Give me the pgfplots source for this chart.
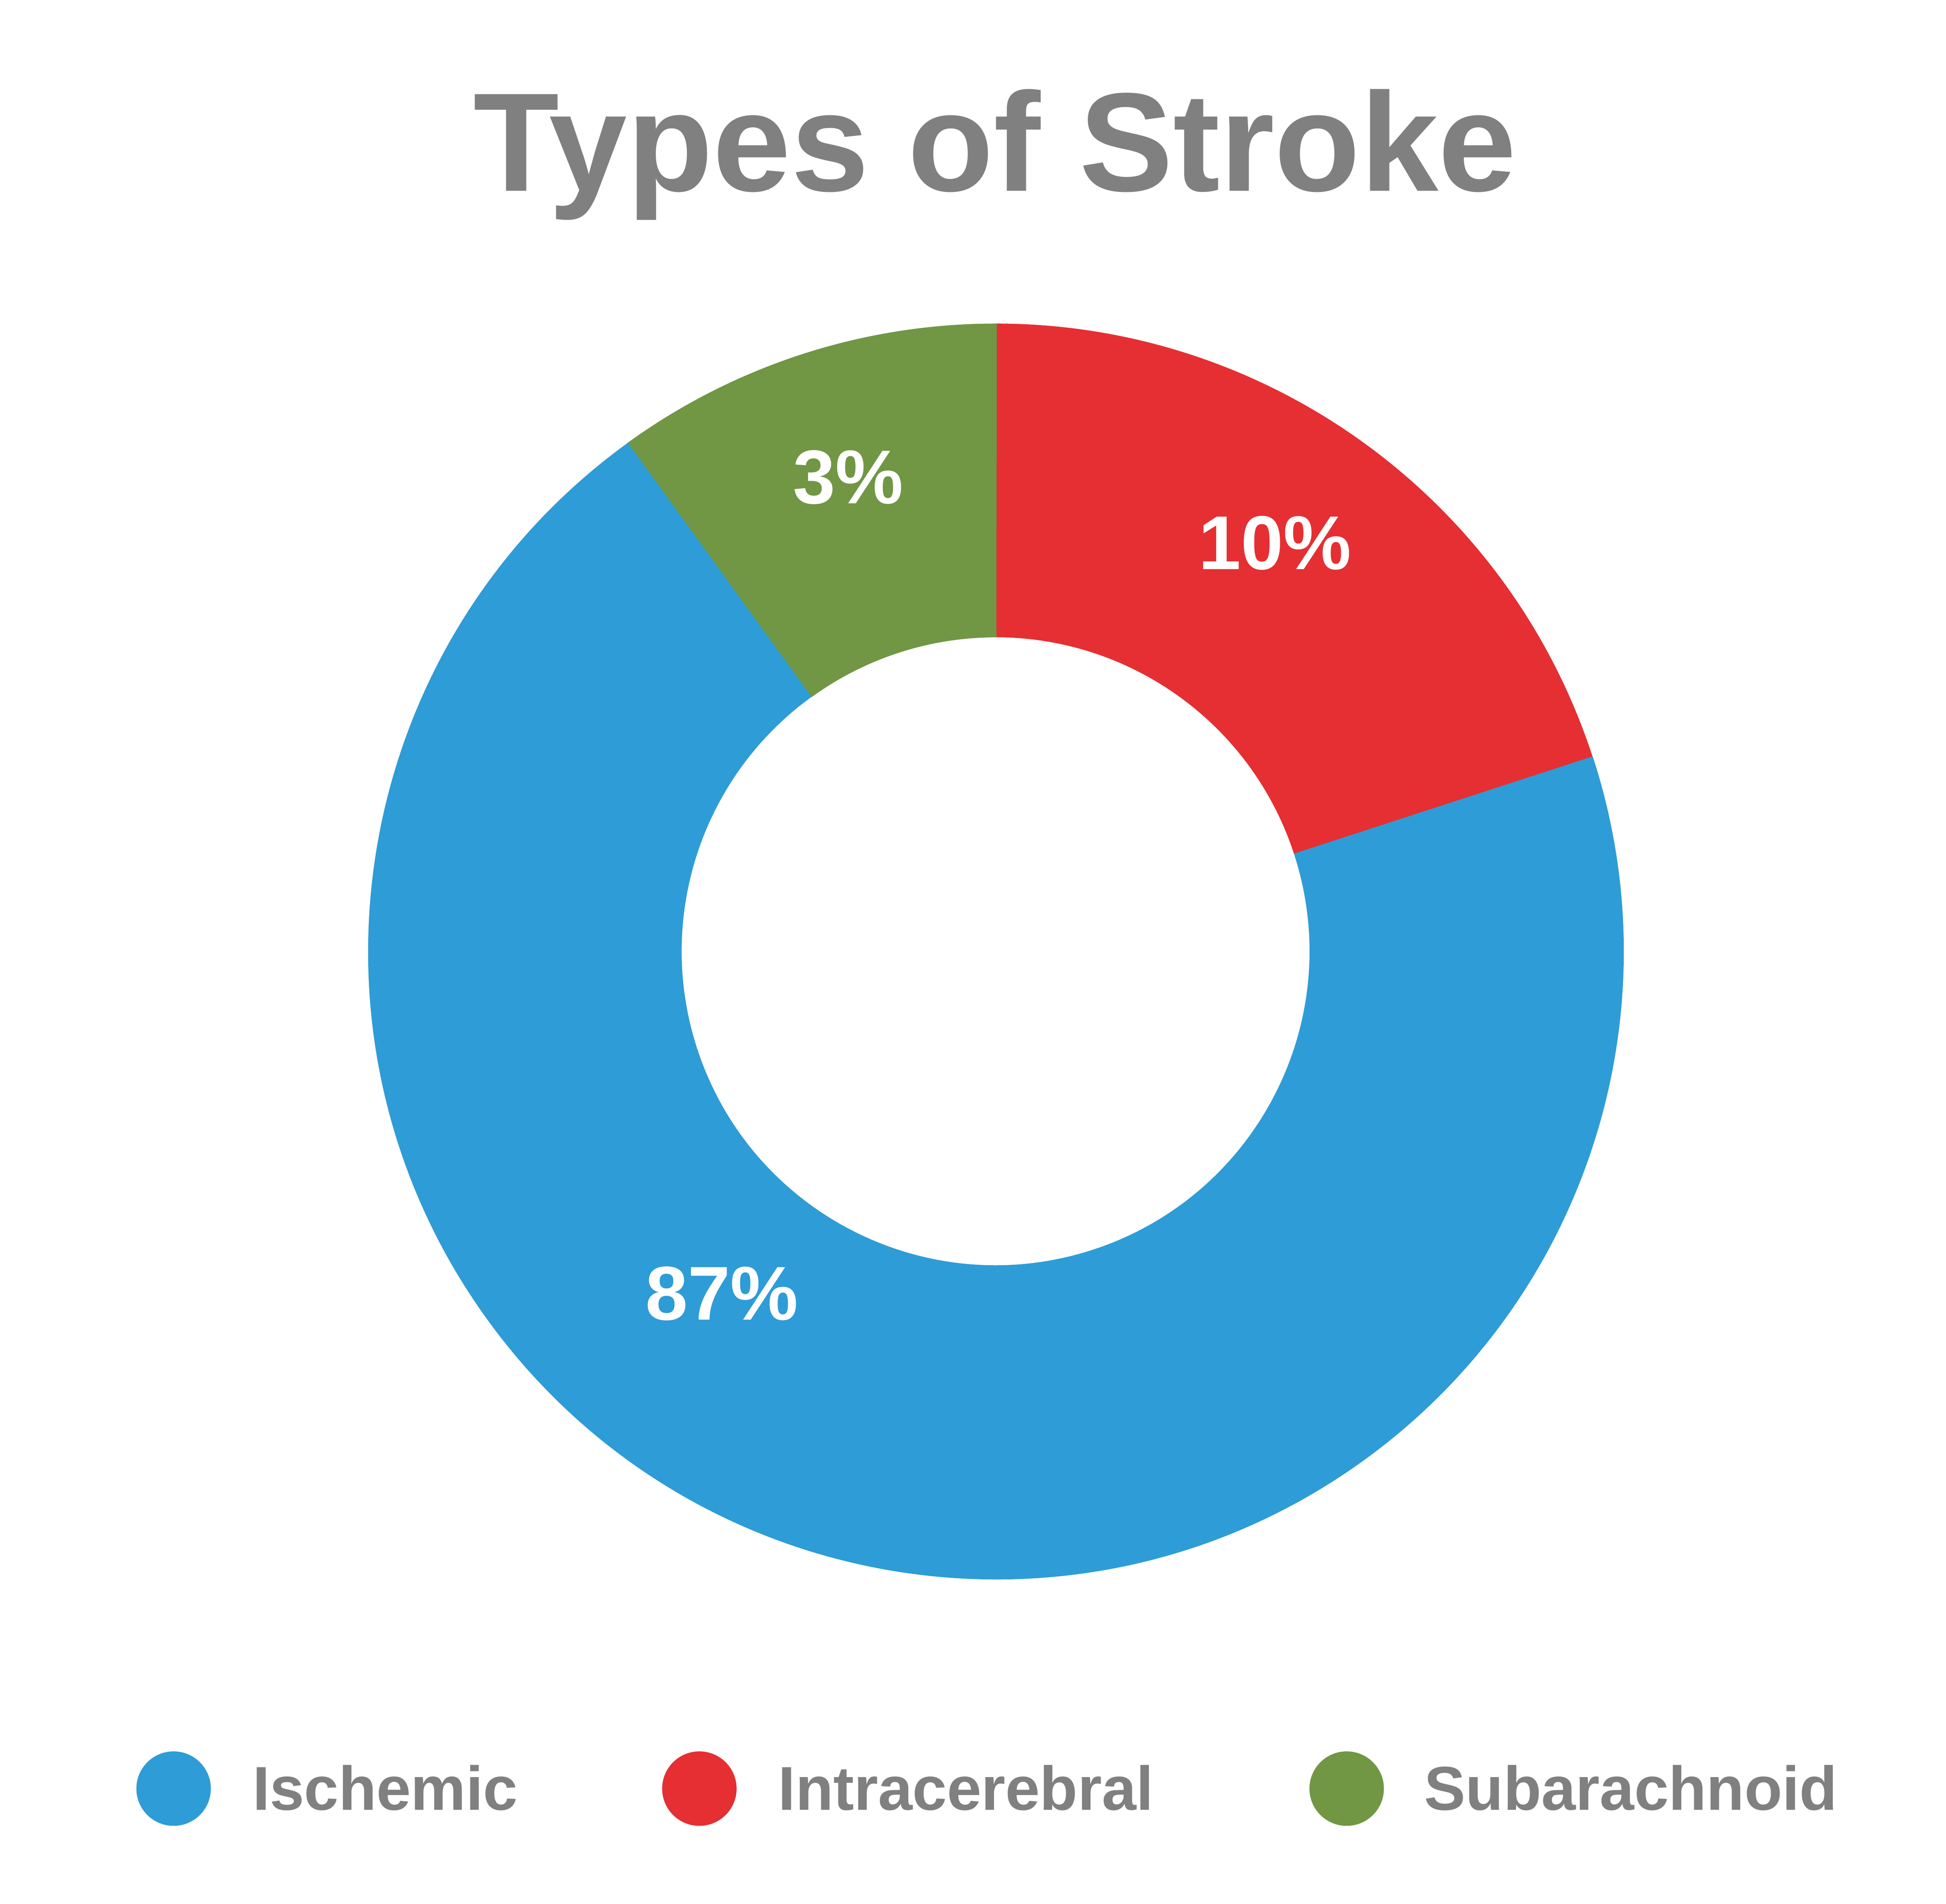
\documentclass[border=0pt]{standalone}
\usepackage{fontspec}
\setmainfont{Liberation Sans}
\usepackage{pgfplots}
\usepackage{pgfplotstable}
\pgfplotsset{compat=1.18}
\definecolor{cblue}{HTML}{2E9CD6}
\definecolor{cred}{HTML}{E52F32}
\definecolor{cgreen}{HTML}{719644}
\definecolor{cgray}{HTML}{808080}
% share = size of the drawn slice (percent of the ring), label = printed label
\pgfplotstableread{
name share label
Ischemic 70 87
Intracerebral 20 10
Subarachnoid 10 3
}\strokedata
\pgfplotstablegetelem{0}{share}\of\strokedata \let\shA\pgfplotsretval
\pgfplotstablegetelem{1}{share}\of\strokedata \let\shB\pgfplotsretval
\pgfplotstablegetelem{2}{share}\of\strokedata \let\shC\pgfplotsretval
% red clockwise from top, green counter-clockwise from top, blue the rest
\pgfmathsetmacro\redEnd{90-3.6*\shB}
\pgfmathsetmacro\greenEnd{90+3.6*\shC}
\pgfmathsetmacro\blueEnd{\greenEnd+3.6*\shA}
% tiny overlaps to avoid anti-aliasing seams
\pgfmathsetmacro\blueStart{\greenEnd-0.1}
\pgfmathsetmacro\blueStop{\blueEnd+0.1}
\newcommand{\slice}[3]{%
  \fill[#1] (axis cs:{803+506*cos(#2)},{768.2+506*sin(#2)})
     arc[start angle=#2,end angle=#3,radius=5.06cm]
     -- (axis cs:{803+253*cos(#3)},{768.2+253*sin(#3)})
     arc[start angle=#3,end angle=#2,radius=2.53cm] -- cycle;}
\begin{document}
\begin{tikzpicture}
\useasboundingbox (0,0) rectangle (15.684cm,15.342cm);
\begin{axis}[
  at={(0,0)}, anchor=south west,
  x=0.01cm, y=0.01cm, scale only axis,
  xmin=0, xmax=1568.4, ymin=0, ymax=1534.2,
  hide axis, clip=false]
\slice{cred}{90}{\redEnd}
\slice{cgreen}{89.9}{\greenEnd}
\slice{cblue}{\blueStart}{\blueStop}
% title
\node[anchor=base, text=cgray, font=\fontsize{32.2}{38}\selectfont\bfseries, inner sep=0pt] at (axis cs:802.5,1381) {Types of Stroke};
% slice labels
\node[anchor=base, text=white, font=\fontsize{17.5}{20}\selectfont\bfseries, inner sep=0pt] at (axis cs:684,1129) {3\%};
\node[anchor=base, text=white, font=\fontsize{17.5}{20}\selectfont\bfseries, inner sep=0pt] at (axis cs:1028,1076) {10\%};
\node[anchor=base, text=white, font=\fontsize{17.5}{20}\selectfont\bfseries, inner sep=0pt] at (axis cs:582,471) {87\%};
% legend
\fill[cblue] (axis cs:140,93) circle[radius=0.30cm];
\fill[cred] (axis cs:564,93) circle[radius=0.30cm];
\fill[cgreen] (axis cs:1086,93) circle[radius=0.30cm];
\node[anchor=base west, text=cgray, font=\fontsize{14.2}{17}\selectfont\bfseries, inner sep=0pt] at (axis cs:203,75.7) {Ischemic};
\node[anchor=base west, text=cgray, font=\fontsize{14.2}{17}\selectfont\bfseries, inner sep=0pt] at (axis cs:627,75.7) {Intracerebral};
\node[anchor=base west, text=cgray, font=\fontsize{14.2}{17}\selectfont\bfseries, inner sep=0pt] at (axis cs:1148,75.7) {Subarachnoid};
\end{axis}
\end{tikzpicture}
\end{document}
